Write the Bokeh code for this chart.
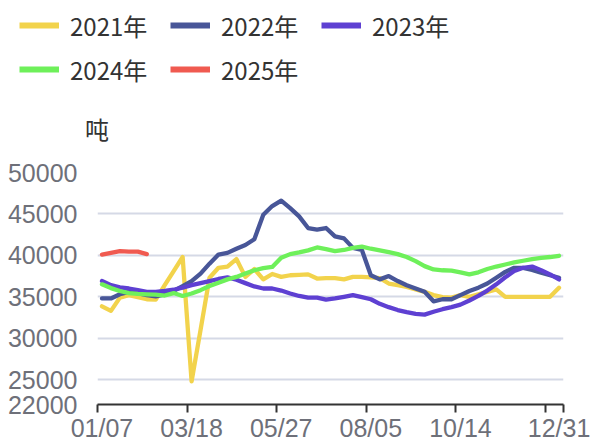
from bokeh.plotting import figure
from bokeh.models import Range1d, FixedTicker, Legend, LegendItem, Label, ColumnDataSource
from bokeh.embed import file_html
from bokeh.resources import INLINE

categories = ["01/07", "01/14", "01/21", "01/28", "02/04", "02/11", "02/18", "02/25", "03/04", "03/11",
              "03/18", "03/25", "04/01", "04/08", "04/15", "04/22", "04/29", "05/06", "05/13", "05/20",
              "05/27", "06/03", "06/10", "06/17", "06/24", "07/01", "07/08", "07/15", "07/22", "07/29",
              "08/05", "08/12", "08/19", "08/26", "09/02", "09/09", "09/16", "09/23", "09/30", "10/07",
              "10/14", "10/21", "10/28", "11/04", "11/11", "11/18", "11/25", "12/02", "12/09", "12/16",
              "12/23", "12/31"]
label_idx = [0, 10, 20, 30, 40, 51]

series_names = ["2021年", "2022年", "2023年", "2024年", "2025年"]
y2021 = [33850, 33300, 34900, 35200, 34950, 34700, 34650, 36400, 38100, 39800,
         24800, 31000, 37300, 38500, 38650, 39550, 37400, 38350, 37100, 37750,
         37400, 37600, 37650, 37700, 37200, 37250, 37250, 37100, 37400, 37400,
         37350, 37250, 36600, 36400, 36200, 35900, 35600, 35200, 34950, 34900,
         35200, 35000, 35300, 35600, 35900, 35000, 35000, 35000, 35000, 35000,
         35000, 36100]
y2022 = [34800, 34800, 35300, 35600, 35450, 35200, 35050, 35300, 35700, 36300,
         36900, 37800, 39000, 40100, 40300, 40800, 41250, 41950, 44900, 45950,
         46600, 45700, 44700, 43300, 43100, 43300, 42300, 42050, 40900, 40650,
         37600, 37100, 37500, 36900, 36400, 36000, 35600, 34450, 34700, 34700,
         35200, 35700, 36100, 36600, 37300, 38000, 38500, 38500, 38250, 37900,
         37600, 37300]
y2023 = [36900, 36400, 36150, 36000, 35800, 35600, 35600, 35700, 35850, 36100,
         36400, 36650, 36900, 37150, 37350, 37050, 36650, 36250, 36000, 36000,
         35750, 35400, 35100, 34900, 34900, 34650, 34800, 35000, 35200, 34950,
         34700, 34150, 33750, 33400, 33150, 32950, 32850, 33200, 33500, 33750,
         34050, 34550, 35100, 35750, 36500, 37350, 38100, 38500, 38650, 38200,
         37700, 37100]
y2024 = [36500, 36050, 35700, 35450, 35350, 35300, 35250, 35150, 35450, 35100,
         35400, 35800, 36300, 36700, 37100, 37400, 37800, 38200, 38450, 38600,
         39700, 40150, 40350, 40600, 40950, 40750, 40500, 40650, 40900, 41050,
         40800, 40600, 40400, 40150, 39800, 39300, 38700, 38300, 38200, 38150,
         37950, 37700, 37950, 38350, 38650, 38900, 39150, 39350, 39550, 39700,
         39800, 39950]
y2025 = [40100, 40300, 40500, 40450, 40450, 40150]

colors = ["#F2D34C", "#485698", "#5E40D2", "#6EF05A", "#F05A50"]
y_ticks = [22000, 25000, 30000, 35000, 40000, 45000, 50000]
grid_ticks = [25000, 30000, 35000, 40000, 45000, 50000]
unit_label = "吨"

TOP_H = 150
LEFT = 97

# ---- header figure: legend + unit label ----
head = figure(width=595, height=TOP_H, output_backend="svg", toolbar_location=None,
              x_range=Range1d(0, 1), y_range=Range1d(0, 1),
              x_axis_location=None, y_axis_location=None,
              min_border_left=0, min_border_right=0, min_border_top=0, min_border_bottom=0)
head.outline_line_color = None
head.grid.visible = False
head.background_fill_color = "white"
head.border_fill_color = "white"

# legend-only renderers, placed outside the visible range
dummies = [head.line(x=[-10, -9], y=[-10, -10], line_color=c, line_width=6) for c in colors]

def make_legend(idxs, vy):
    items = [LegendItem(label=series_names[i], renderers=[dummies[i]]) for i in idxs]
    lg = Legend(items=items, orientation="horizontal", location=(19, vy),
                glyph_width=40, glyph_height=30, label_height=30, label_width=100,
                label_standoff=11, spacing=0, padding=0, margin=0,
                border_line_color=None, background_fill_alpha=0,
                label_text_font="Noto Sans CJK SC", label_text_font_size="24px",
                label_text_color="#333333")
    head.add_layout(lg, "center")

make_legend([0, 1, 2], TOP_H - 42.7)
make_legend([3, 4], TOP_H - 86.7)

head.add_layout(Label(x=96.5, y=TOP_H - 128, x_units="screen", y_units="screen", text=unit_label,
                      text_align="center", text_baseline="middle",
                      text_font="Noto Sans CJK SC", text_font_size="24px", text_color="#333333"))

# ---- main chart ----
p = figure(width=595, height=444 - TOP_H, output_backend="svg", toolbar_location=None,
           x_range=Range1d(-0.5, len(categories) - 0.5), y_range=Range1d(22000, 50000),
           min_border_left=LEFT, min_border_right=32, min_border_top=172 - TOP_H, min_border_bottom=39)
p.outline_line_color = None
p.background_fill_color = "white"
p.border_fill_color = "white"

all_series = [y2021, y2022, y2023, y2024, y2025]
for vals, col in zip(all_series, colors):
    src = ColumnDataSource(dict(x=list(range(len(vals))), y=vals))
    p.line("x", "y", source=src, line_color=col, line_width=4.3, line_join="round", line_cap="round")

xa = p.xaxis[0]
xa.ticker = FixedTicker(ticks=label_idx, minor_ticks=[-0.5, 9.5, 19.5, 29.5, 39.5, 49.5, 51.5])
xa.major_label_overrides = {i: categories[i] for i in label_idx}
xa.major_tick_out = 0
xa.major_tick_in = 0
xa.minor_tick_out = 8
xa.minor_tick_in = 0
xa.minor_tick_line_width = 2
xa.minor_tick_line_color = "#333333"
xa.axis_line_width = 2
xa.axis_line_color = "#333333"
xa.major_label_standoff = 1
xa.major_label_text_font = "Liberation Sans"
xa.major_label_text_font_size = "25px"
xa.major_label_text_color = "#6E7079"

ya = p.yaxis[0]
ya.ticker = FixedTicker(ticks=y_ticks)
ya.axis_line_color = None
ya.major_tick_line_color = None
ya.minor_tick_line_color = None
ya.major_label_standoff = 14
ya.major_label_text_font = "Liberation Sans"
ya.major_label_text_font_size = "25px"
ya.major_label_text_color = "#6E7079"

p.xgrid.grid_line_color = None
p.ygrid.ticker = FixedTicker(ticks=grid_ticks)
p.ygrid.grid_line_color = "#D5D9E6"
p.ygrid.grid_line_width = 2

open("out.html", "w").write(file_html([head, p], INLINE))
